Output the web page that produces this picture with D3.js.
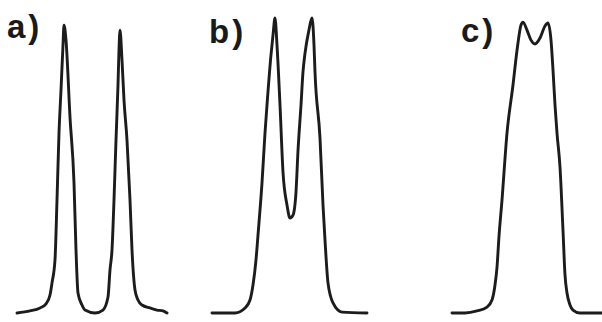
<!DOCTYPE html>
<html>
<head>
<meta charset="utf-8">
<script src="https://cdn.jsdelivr.net/npm/d3@7"></script>
<style>
  html, body { margin: 0; padding: 0; background: #fff; }
  svg { display: block; }
  .label { font-family: "Liberation Sans", Arial, sans-serif; font-weight: bold; fill: #1a1a1a; }
</style>
</head>
<body>
<div id="chart"></div>
<script>
'use strict'

////////////////////////////////////
//////////// data //////////////////
////////////////////////////////////

const panelLabels = ['a)', 'b)', 'c)']

// a) two well resolved peaks
const timeA   = [0, 13, 23, 29, 33, 35, 38, 40, 42, 44, 46, 47, 49, 53, 57, 59, 61, 65, 68, 78, 86, 91, 93, 95, 97, 99, 101, 102, 103, 105, 107, 110, 113, 115, 118, 121, 125, 133, 140, 146, 150]
const signalA = [0, 0.7, 1.7, 3.1, 6.1, 10.2, 18.0, 38.3, 61.0, 75.6, 90.8, 97.6, 92.5, 66.4, 44.1, 21.4, 6.8, 2.7, 1.0, 0, 1.0, 5.4, 14.6, 21.4, 38.3, 58.6, 77.3, 89.2, 95.9, 85.8, 72.2, 58.6, 38.3, 21.4, 7.8, 4.4, 2.7, 1.7, 1.0, 0.7, 0]

// b) partly overlapping peaks
const timeB   = [0, 23, 33, 38, 41, 44, 46, 50, 53, 55, 59, 61, 63, 65, 68, 71, 75, 78, 81, 84, 86, 89, 91, 93, 97, 100, 102, 103, 108, 111, 113, 116, 121, 130, 155]
const signalB = [0, 0, 1.7, 4.4, 9.5, 18.0, 26.4, 44.1, 61.0, 70.5, 87.5, 94.2, 100, 90.8, 70.5, 47.8, 36.6, 32.2, 33.2, 41.0, 55.0, 70.5, 81.7, 88.0, 96.0, 100, 90.8, 81.7, 59.3, 36.6, 24.7, 10.2, 3.4, 0.3, 0]

// c) nearly merged peaks
const timeC   = [0, 13, 25, 35, 40, 43, 45, 47, 50, 55, 61, 65, 69, 71, 75, 79, 83, 88, 93, 96, 99, 101, 103, 105, 108, 111, 113, 115, 118, 121, 128, 150]
const signalC = [0, 0, 0.7, 2.0, 4.4, 9.5, 15.5, 26.0, 38.3, 61.0, 77.3, 89.0, 97.6, 98.6, 95.9, 92.5, 91.2, 93.2, 97.3, 98.3, 92.5, 82.4, 70.5, 61.0, 49.5, 28.0, 12.9, 6.8, 2.7, 1.0, 0, 0]

const series = [
    { label: panelLabels[0], time: timeA, signal: signalA },
    { label: panelLabels[1], time: timeB, signal: signalB },
    { label: panelLabels[2], time: timeC, signal: signalC }
]

////////////////////////////////////
//////////// svg setup /////////////
////////////////////////////////////

const svgWidth = 602
const svgHeight = 322

const svg = d3.select('#chart')
    .append('svg')
    .attr('width', svgWidth)
    .attr('height', svgHeight)
    .attr('viewBox', `0 0 ${svgWidth} ${svgHeight}`)

// where each panel sits on the page
const layout = [
    { x0: 17,  x1: 167, labelX: 7,   labelY: 38 },
    { x0: 212, x1: 367, labelX: 209, labelY: 43 },
    { x0: 452, x1: 602, labelX: 461, labelY: 42 }
]

// shared vertical scale, signal 0..100
const y = d3.scaleLinear()
    .domain([0, 100])
    .range([313, 18])

////////////////////////////////////
//////////// panels ////////////////
////////////////////////////////////

series.forEach((s, i) => {
    const pos = layout[i]
    const pts = s.time.map((t, j) => ({ t: t, v: s.signal[j] }))

    const x = d3.scaleLinear()
        .domain([0, d3.max(s.time)])
        .range([pos.x0, pos.x1])

    const line = d3.line()
        .x(d => x(d.t))
        .y(d => y(d.v))
        .curve(d3.curveMonotoneX)

    svg.append('path')
        .datum(pts)
        .attr('fill', 'none')
        .attr('stroke', '#1c1c1c')
        .attr('stroke-width', 2.9)
        .attr('stroke-linejoin', 'round')
        .attr('stroke-linecap', 'round')
        .attr('d', line)

    svg.append('text')
        .attr('class', 'label')
        .attr('x', pos.labelX)
        .attr('y', pos.labelY)
        .attr('font-size', '33px')
        .attr('letter-spacing', '3px')
        .text(s.label)
})
</script>
</body>
</html>
